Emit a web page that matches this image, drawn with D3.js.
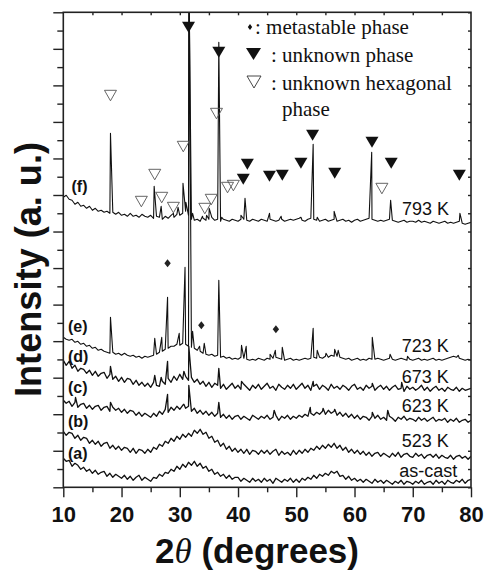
<html>
  <head>
    <meta charset="utf-8" />
    <script src="https://d3js.org/d3.v7.min.js"></script>
    <style>
      body {
        margin: 0;
        background: #fff;
      }
      text {
        font-family: "Liberation Sans", Arial, sans-serif;
      }
    </style>
  </head>
  <body>
    <svg id="chart" width="487" height="571"></svg>
    <script>
      // background arrays are sampled every 0.5 deg from 10 to 80 (2theta)
      var startAngle = 10,
        stepAngle = 0.5;

      var xMajor = [10, 20, 30, 40, 50, 60, 70, 80];
      var samples = ["(a)", "(b)", "(c)", "(d)", "(e)", "(f)"];
      var temps = ["as-cast", "523 K", "623 K", "673 K", "723 K", "793 K"];

      // (a) as-cast
      var bgA = [29,26,27,21,24,22,18,20,16,18, 14,17,13,15,16,11,14,10,13,11, 9,12,8,11,7,10,12,7,10,8, 6,10,9,13,11,15,14,18,16,21, 18,23,20,25,22,26,21,24,19,21, 16,18,13,15,11,13,9,12,8,10, 10,6,9,7,5,9,6,8,5,9, 6,8,4,9,7,5,8,6,9,5, 8,5,9,7,10,8,12,9,13,11, 14,12,16,14,16,11,12,8,11,7, 9,6,8,5,8,6,4,8,5,7, 4,7,5,3,6,4,7,3,6,5, 3,6,4,7,3,5,6,3,7,4, 6,3,7,5,4,7,5,8,4,7, 8];
      var peaksA = [];
      // (b) 523 K
      var bgB = [56,52,55,54,49,52,47,50,49,44, 47,43,46,41,44,45,39,42,38,41, 37,40,39,35,39,34,38,37,34,38, 35,40,38,43,41,46,44,49,46,51, 48,53,50,54,51,57,54,58,53,55, 49,51,45,47,41,44,38,41,36,39, 35,38,34,38,33,37,36,33,37,34, 37,33,36,38,32,36,33,35,32,37, 33,37,34,38,35,39,37,41,38,42, 39,43,40,44,39,42,37,40,35,38, 34,37,33,36,32,35,31,34,35,31, 34,32,30,34,31,35,30,33,34,31, 30,34,31,33,29,32,33,30,33,29, 32,30,29,32,28,31,32,29,31,28, 31];
      var peaksB = [];
      // (c) 623 K
      var bgC = [87,84,86,81,85,80,83,84,79,82, 78,81,82,77,80,81,76,80,77,79, 75,78,74,77,76,72,75,71,74,72, 70,74,71,76,73,78,75,80,77,81, 78,82,79,81,76,79,74,77,73,76, 72,75,71,74,70,73,69,72,68,71, 72,68,71,69,67,72,70,68,71,69, 72,68,70,72,67,71,69,72,68,71, 69,72,70,73,71,74,72,75,73,76, 73,77,74,76,72,75,71,74,70,73, 69,72,68,71,70,67,71,69,72,68, 70,67,71,69,66,70,68,71,67,69, 68,66,70,67,69,66,68,70,66,68, 67,69,65,68,66,69,65,67,68,65, 67];
      var peaksC = [[12.1, 90], [18.1, 85], [27.9, 93], [30.7, 83], [31.55, 102], [36.7, 85], [46.2, 77], [52.4, 80], [54.6, 79], [56.6, 78], [63.05, 75], [65.7, 77]];
      // (d) 673 K
      var bgD = [127,122,126,119,122,116,119,118,114,117, 112,116,111,114,115,109,113,108,111,106, 110,105,109,108,103,107,102,105,101,104, 100,105,102,101,106,103,109,105,111,107, 113,108,111,107,110,105,108,103,106,101, 105,100,104,102,99,103,98,101,104,99, 102,98,103,100,97,102,99,103,98,101, 104,99,101,97,103,100,98,102,99,103, 98,101,104,99,102,97,101,103,98,102, 100,97,103,99,101,98,102,100,97,101, 103,98,100,97,102,99,101,97,100,102, 98,101,97,100,102,98,99,96,101,98, 100,97,99,102,97,100,96,99,101,97, 99,96,100,98,97,100,96,99,97,98, 99];
      var peaksD = [[18.1, 121], [25.7, 112], [26.8, 110], [27.9, 126], [30.7, 116], [31.55, 141], [36.7, 119], [40.6, 106], [52.9, 106], [63.05, 104], [68.1, 105]];
      // (e) 723 K
      var bgE = [150,148,147,148,145,146,143,144,141,142,139,140,137,138,136,135,134,135,133,134,132,134,132,131,132,130,131,129,131,130,131,132,133,135,136,138,139,141,141,143,142,144,143,141,140,139,137,136,134,133,132,133,131,132,130,131,129,130,128,129,128,130,129,128,127,128,127,129,128,127,129,128,129,130,129,128,127,128,129,127,128,127,128,129,128,129,130,129,130,129,131,130,132,131,131,130,129,128,129,127,128,129,127,128,127,129,128,128,129,128,127,128,129,128,127,128,129,128,127,128,127,128,129,127,128,127,128,129,127,128,127,128,129,130,131,130,129,128,127,128,127];
      var peaksE = [[18.1, 170], [25.7, 149], [26.9, 150], [27.9, 190], [29.9, 154], [30.9, 220], [31.6, 520], [32.2, 156], [33.4, 141], [34.2, 144], [36.7, 207], [40.6, 142], [41.4, 141], [45.5, 133], [46.4, 137], [47.6, 140], [52.9, 159], [53.6, 137], [55.1, 134], [56.6, 138], [57.2, 137], [63.05, 150], [66.1, 133], [69.1, 131], [77.8, 132]];
      // (f) 793 K
      var bgF = [290,292,288,287,283,285,281,282,279,281,277,279,276,277,275,276,274,275,273,275,272,273,271,274,271,272,270,273,271,270,272,269,271,270,268,271,269,272,270,273,272,274,276,272,268,267,268,266,269,267,268,270,267,268,266,268,267,266,268,267,266,268,268,267,266,268,267,266,268,267,266,268,267,266,267,268,266,267,268,267,268,269,267,266,268,269,268,267,266,267,268,266,267,268,266,267,268,266,267,265,267,268,266,267,268,269,268,267,266,267,266,267,268,267,266,265,266,267,265,266,266,265,267,265,266,265,264,266,265,264,265,266,264,265,264,265,266,264,263,264,265];
      var peaksF = [[18.1, 354], [25.6, 301], [26.8, 281], [28.9, 274], [29.7, 280], [30.55, 304], [31.05, 285], [31.55, 520], [32.2, 274], [33.9, 271], [34.6, 272], [35.05, 279], [36.7, 445], [37.2, 270], [40.5, 272], [41.2, 289], [45.4, 274], [47.4, 271], [50.8, 270], [52.9, 343], [53.6, 270], [56.5, 276], [62.95, 335], [66.2, 287], [78.1, 274]];

      // phase markers [2theta, intensity]
      var metastable = [[27.9, 224], [33.7, 162], [46.5, 158]];
      var unknownPhase = [[31.5, 460], [36.7, 435], [40.9, 308], [41.6, 323], [45.4, 311], [47.6, 312], [50.8, 324], [52.8, 352], [56.6, 314], [63.0, 345], [66.3, 324], [78.0, 312]];
      var hexPhase = [[18.1, 392], [23.4, 286], [25.7, 313], [26.9, 290], [28.9, 280], [30.6, 341], [34.3, 279], [35.4, 288], [36.3, 374], [38.2, 300], [39.2, 302], [64.7, 299]];

      var svg = d3.select("#chart"),
        margin = { top: 12.3, left: 63.3, right: 16, bottom: 83.7 },
        width = +svg.attr("width"),
        height = +svg.attr("height");

      var x = d3
        .scaleLinear()
        .domain([10, 80])
        .range([margin.left, width - margin.right]);
      var y = d3
        .scaleLinear()
        .domain([0, 475])
        .range([height - margin.bottom, margin.top]);

      function series(bg, peaks) {
        var pts = bg.map(function (v, i) {
          return [startAngle + stepAngle * i, v];
        });
        return pts.concat(peaks).sort(function (a, b) {
          return a[0] - b[0];
        });
      }

      var allSeries = [
        series(bgA, peaksA),
        series(bgB, peaksB),
        series(bgC, peaksC),
        series(bgD, peaksD),
        series(bgE, peaksE),
        series(bgF, peaksF),
      ];

      svg
        .append("clipPath")
        .attr("id", "plot")
        .append("rect")
        .attr("x", x(10))
        .attr("y", y(475))
        .attr("width", x(80) - x(10))
        .attr("height", y(0) - y(475));

      var line = d3
        .line()
        .x((d) => x(d[0]))
        .y((d) => y(d[1]));

      svg
        .append("g")
        .attr("clip-path", "url(#plot)")
        .selectAll("path")
        .data(allSeries)
        .enter()
        .append("path")
        .attr("d", line)
        .attr("fill", "none")
        .attr("stroke", "#111")
        .attr("stroke-width", (d, i) => (i < 4 ? 1.3 : 1.1))
        .attr("stroke-linejoin", "round");

      // markers
      svg
        .selectAll(".unk")
        .data(unknownPhase)
        .enter()
        .append("path")
        .attr("class", "unk")
        .attr("transform", (d) => "translate(" + x(d[0]) + "," + y(d[1]) + ")")
        .attr("d", "M-6.5,-5.5L6.5,-5.5L0,5.5Z")
        .attr("fill", "#111");

      svg
        .selectAll(".hex")
        .data(hexPhase)
        .enter()
        .append("path")
        .attr("class", "hex")
        .attr("transform", (d) => "translate(" + x(d[0]) + "," + y(d[1]) + ")")
        .attr("d", "M-6,-5L6,-5L0,5.5Z")
        .attr("fill", "none")
        .attr("stroke", "#555")
        .attr("stroke-width", 0.9);

      svg
        .selectAll(".meta")
        .data(metastable)
        .enter()
        .append("path")
        .attr("class", "meta")
        .attr("transform", (d) => "translate(" + x(d[0]) + "," + y(d[1]) + ")")
        .attr("d", "M0,-4L3.2,0L0,4L-3.2,0Z")
        .attr("fill", "#222");

      // axes
      var bottom = height - margin.bottom;
      var minorX = d3.range(15, 80, 10);
      svg
        .append("g")
        .attr("transform", "translate(0," + bottom + ")")
        .call(d3.axisBottom(x).tickValues(xMajor).tickSize(10).tickPadding(8.7).tickSizeOuter(0))
        .call((g) => g.select(".domain").remove())
        .call((g) =>
          g.selectAll("text")
            .attr("fill", "#111")
            .style("font-size", "22px")
            .style("font-weight", "bold")
            .style("font-family", "'Liberation Sans', Arial, sans-serif")
        );
      svg
        .append("g")
        .attr("transform", "translate(0," + bottom + ")")
        .call(d3.axisBottom(x).tickValues(minorX).tickSize(5).tickFormat("").tickSizeOuter(0))
        .call((g) => g.select(".domain").remove());

      svg
        .append("g")
        .attr("transform", "translate(0," + margin.top + ")")
        .call(d3.axisTop(x).tickValues(d3.range(15, 80, 5)).tickSize(-3).tickFormat("").tickSizeOuter(0))
        .call((g) => g.select(".domain").remove());

      var yMajor = d3.range(0, 14).map((i) => (i * 475) / 13);
      var yMinor = d3.range(0, 13).map((i) => ((i + 0.5) * 475) / 13);
      svg
        .append("g")
        .attr("transform", "translate(" + margin.left + ",0)")
        .call(d3.axisLeft(y).tickValues(yMajor).tickSize(10).tickFormat("").tickSizeOuter(0))
        .call((g) => g.select(".domain").remove());
      svg
        .append("g")
        .attr("transform", "translate(" + margin.left + ",0)")
        .call(d3.axisLeft(y).tickValues(yMinor).tickSize(6).tickFormat("").tickSizeOuter(0))
        .call((g) => g.select(".domain").remove());
      svg
        .append("g")
        .attr("transform", "translate(" + x(80) + ",0)")
        .call(d3.axisRight(y).tickValues(yMajor.concat(yMinor)).tickSize(-3).tickFormat("").tickSizeOuter(0))
        .call((g) => g.select(".domain").remove());

      svg.selectAll(".tick line").attr("stroke", "#222").attr("stroke-width", 1.4);

      svg
        .append("rect")
        .attr("x", x(10))
        .attr("y", y(475))
        .attr("width", x(80) - x(10))
        .attr("height", y(0) - y(475))
        .attr("fill", "none")
        .attr("stroke", "#222")
        .attr("stroke-width", 1.6);

      // axis titles
      var xTitle = svg
        .append("text")
        .attr("x", 257)
        .attr("y", 563)
        .attr("text-anchor", "middle")
        .style("font-size", "35px")
        .style("font-weight", "bold")
        .attr("fill", "#111");
      xTitle.append("tspan").text("2");
      xTitle
        .append("tspan")
        .style("font-family", "'Liberation Serif', 'DejaVu Serif', serif")
        .style("font-style", "italic")
        .style("font-weight", "normal")
        .text("\u03b8");
      xTitle.append("tspan").text(" (degrees)");

      svg
        .append("text")
        .attr("transform", "translate(41,269.5) rotate(-90)")
        .attr("text-anchor", "middle")
        .attr("textLength", 255)
        .attr("lengthAdjust", "spacingAndGlyphs")
        .style("font-size", "37px")
        .style("font-weight", "bold")
        .attr("fill", "#111")
        .text("Intensity (a. u.)");

      // curve labels
      var leftLabelY = [459, 426.7, 392.5, 361.7, 331.7, 191.5];
      var leftLabelX = [68, 68, 68, 68, 68, 71.5];
      svg
        .selectAll(".lbl")
        .data(samples)
        .enter()
        .append("text")
        .attr("class", "lbl")
        .attr("x", (d, i) => leftLabelX[i])
        .attr("y", (d, i) => leftLabelY[i])
        .style("font-size", "16px")
        .style("font-weight", "bold")
        .attr("fill", "#111")
        .text((d) => d);

      var rightLabelY = [476.7, 446.7, 411.7, 383, 351.7, 215];
      var rightLabelX = [399.3, 401.7, 401.7, 401.7, 401.7, 402];
      svg
        .selectAll(".tmp")
        .data(temps)
        .enter()
        .append("text")
        .attr("class", "tmp")
        .attr("x", (d, i) => rightLabelX[i])
        .attr("y", (d, i) => rightLabelY[i])
        .style("font-size", "18px")
        .attr("fill", "#111")
        .text((d) => d);

      // legend
      var legend = svg
        .append("g")
        .style("font-size", "21px")
        .attr("fill", "#111");
      legend.append("path").attr("d", "M250,24L252.2,27L250,30L247.8,27Z").attr("fill", "#111");
      legend
        .append("text")
        .attr("x", 255)
        .attr("y", 34)
        .style("font-family", "'Liberation Serif', serif")
        .text(": metastable phase");
      legend.append("path").attr("d", "M246,48L261,48L253.5,60Z").attr("fill", "#111");
      legend
        .append("text")
        .attr("x", 271)
        .attr("y", 62)
        .style("font-family", "'Liberation Serif', serif")
        .text(": unknown phase");
      legend
        .append("path")
        .attr("d", "M247,76L261,76L254,88Z")
        .attr("fill", "none")
        .attr("stroke", "#333")
        .attr("stroke-width", 0.9);
      legend
        .append("text")
        .attr("x", 271)
        .attr("y", 90)
        .style("font-family", "'Liberation Serif', serif")
        .text(": unknown hexagonal");
      legend
        .append("text")
        .attr("x", 282)
        .attr("y", 116)
        .style("font-family", "'Liberation Serif', serif")
        .text("phase");
    </script>
  </body>
</html>
